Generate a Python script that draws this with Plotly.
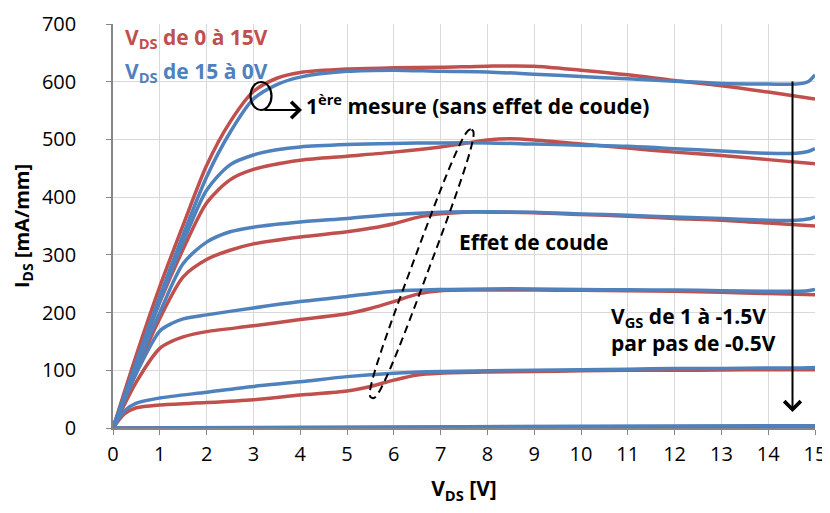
import numpy as np
import plotly.graph_objects as go

# ---------------- data ----------------
vgs_levels = ["1 V", "0.5 V", "0 V", "-0.5 V", "-1 V", "-1.5 V"]

# VDS swept 0 -> 15 V (red)
red_x = [
    [0, 0.5, 1, 1.5, 2, 2.5, 3, 3.5, 4, 5, 6, 7, 8, 9, 10, 11, 12, 13, 14, 15],
    [0, 0.5, 1, 1.5, 2, 2.5, 3, 4, 5, 6, 7, 7.5, 8, 8.5, 9, 10, 11, 12, 13, 14, 15],
    [0, 0.5, 1, 1.5, 2, 2.5, 3, 4, 5, 5.5, 6, 6.5, 7, 7.5, 8, 9, 10, 11, 12, 13, 14, 15],
    [0, 0.5, 1, 1.25, 1.5, 2, 3, 4, 5, 5.5, 6, 6.5, 7, 8, 9, 10, 11, 12, 13, 14, 15],
    [0, 0.25, 0.5, 1, 2, 3, 4, 5, 5.5, 6, 6.5, 7, 8, 9, 10, 11, 12, 13, 14, 15],
    [0, 5, 10, 15],
]
red_y = [
    [0, 127, 245, 352, 455, 530, 583, 606, 616, 622, 624, 625, 627, 627, 620, 612, 602, 593, 582, 570],
    [0, 112, 218, 310, 390, 430, 448, 464, 471, 478, 487, 493, 499, 501, 499, 492, 485, 478, 472, 465, 458],
    [0, 100, 190, 262, 292, 308, 319, 331, 340, 346, 354, 365, 371, 374, 374, 373, 370, 367, 363, 360, 355, 350],
    [0, 80, 138, 150, 158, 167, 177, 188, 198, 207, 219, 232, 238, 239, 239, 238.5, 238, 237, 235, 233, 231],
    [0, 25, 35, 40, 44, 49, 57, 64, 72, 83, 92, 95, 97, 98, 99, 100, 100, 100.5, 101, 101],
    [0, 1, 2, 3],
]

# VDS swept 15 -> 0 V (blue)
blue_x = [
    [0, 0.5, 1, 1.5, 2, 2.5, 3, 3.5, 4, 5, 6, 7, 8, 9, 10, 11, 12, 13, 14, 14.6, 14.85, 15],
    [0, 0.5, 1, 1.5, 2, 2.5, 3, 3.5, 4, 5, 6, 7, 8, 9, 10, 11, 12, 13, 14, 14.6, 14.85, 15],
    [0, 0.5, 1, 1.5, 2, 2.5, 3, 4, 5, 6, 7, 8, 9, 10, 11, 12, 13, 14, 14.6, 14.85, 15],
    [0, 0.5, 1, 1.25, 1.5, 2, 3, 4, 5, 6, 7, 8, 9, 10, 11, 12, 13, 14, 14.6, 14.85, 15],
    [0, 0.25, 0.5, 1, 2, 3, 4, 5, 6, 7, 8, 9, 10, 11, 12, 13, 14, 14.6, 14.85, 15],
    [0, 5, 10, 15],
]
blue_y = [
    [0, 115, 228, 335, 435, 512, 570, 595, 608, 618, 620, 618, 617, 613, 609, 605, 601, 597, 596, 596, 600, 612],
    [0, 112, 220, 322, 412, 456, 473, 482, 487, 491, 493, 494, 494, 492, 490, 488, 484, 480, 476, 476, 479, 484],
    [0, 105, 200, 285, 322, 340, 348, 357, 363, 370, 374, 374.5, 374, 371, 368.5, 365.5, 363, 360, 360, 362, 366],
    [0, 95, 168, 181, 189, 196, 208, 219, 228, 237, 240, 241, 241, 240, 239.5, 239, 238, 237, 237, 238, 240],
    [0, 30, 43, 52, 62, 72, 80, 89, 95, 98, 99, 100, 101, 102, 103, 103, 104, 104, 104.5, 105],
    [0, 1.5, 3, 4],
]

x_ticks = list(range(0, 16))
y_ticks = list(range(0, 701, 100))

RED = "#C0504D"
BLUE = "#4F81BD"
FONT = "Open Sans"

fig = go.Figure()
for xs, ys, name in zip(red_x, red_y, vgs_levels):
    fig.add_trace(go.Scatter(x=xs, y=ys, mode="lines", name="VDS 0→15 V, VGS=" + name,
                             line=dict(color=RED, width=3.5, shape="spline", smoothing=0.8),
                             showlegend=False))
for xs, ys, name in zip(blue_x, blue_y, vgs_levels):
    fig.add_trace(go.Scatter(x=xs, y=ys, mode="lines", name="VDS 15→0 V, VGS=" + name,
                             line=dict(color=BLUE, width=3.5, shape="spline", smoothing=0.8),
                             showlegend=False))

# --- geometry: page has an 8px body margin; plot area in page pixels ---
OFF = 8
PL, PT, PW, PH = 113, 24, 702, 404
W, H = 822, 505
L = PL - OFF
T = PT - OFF
R = W - (PL - OFF) - PW
B = H - (PT - OFF) - PH

def px2x(px):
    return (px - PL) / PW * 15
def py2y(py):
    return (PT + PH - py) / PH * 700

# dashed elongated loop around the "coude" region
cx, cy = 421.7, 263.8
dx, dy = 100.0, -269.0
ln = np.hypot(dx, dy)
ux, uy = dx / ln, dy / ln
vx, vy = -uy, ux
a, b, n = 143.0, 8.5, 3.0
t = np.linspace(0, 2 * np.pi, 121)
ct, st = np.cos(t), np.sin(t)
u = a * np.sign(ct) * np.abs(ct) ** (2 / n)
v = b * np.sign(st) * np.abs(st) ** (2 / n)
pxs = cx + u * ux + v * vx
pys = cy + u * uy + v * vy
path = "M " + " L ".join(f"{px2x(p):.4f},{py2y(q):.3f}" for p, q in zip(pxs, pys)) + " Z"
fig.add_shape(type="path", path=path, xref="x", yref="y",
              line=dict(color="black", width=2, dash="8px,5px"))

# small ellipse at first measurement
fig.add_shape(type="circle", xref="x", yref="y",
              x0=px2x(250.5), x1=px2x(271.5), y0=py2y(110), y1=py2y(82),
              line=dict(color="black", width=2.2))

# arrow from ellipse to text
fig.add_annotation(x=px2x(302), y=py2y(110), ax=px2x(263), ay=py2y(110),
                   xref="x", yref="y", axref="x", ayref="y", text="",
                   showarrow=True, arrowhead=4, arrowsize=1.6, arrowwidth=2, arrowcolor="black")
# vertical VGS arrow
fig.add_annotation(x=px2x(792.5), y=py2y(412), ax=px2x(792.5), ay=py2y(80),
                   xref="x", yref="y", axref="x", ayref="y", text="",
                   showarrow=True, arrowhead=4, arrowsize=1.6, arrowwidth=2, arrowcolor="black")

# texts
ANN = 21
fig.add_annotation(x=px2x(123), y=py2y(38), xref="x", yref="y", xanchor="left", yanchor="middle",
                   text="<b>V<sub>DS</sub> de 0 à 15V</b>", showarrow=False,
                   font=dict(family=FONT, size=ANN, color=RED))
fig.add_annotation(x=px2x(123), y=py2y(72), xref="x", yref="y", xanchor="left", yanchor="middle",
                   text="<b>V<sub>DS</sub> de 15 à 0V</b>", showarrow=False,
                   font=dict(family=FONT, size=ANN, color=BLUE))
fig.add_annotation(x=px2x(304), y=py2y(104), xref="x", yref="y", xanchor="left", yanchor="middle",
                   text="<b>1<sup>ère</sup> mesure (sans effet de coude)</b>", showarrow=False,
                   font=dict(family=FONT, size=ANN, color="black"))
fig.add_annotation(x=px2x(457), y=py2y(242), xref="x", yref="y", xanchor="left", yanchor="middle",
                   text="<b>Effet de coude</b>", showarrow=False,
                   font=dict(family=FONT, size=ANN, color="black"))
fig.add_annotation(x=px2x(609), y=py2y(329), xref="x", yref="y", xanchor="left", yanchor="middle",
                   text="<b>V<sub>GS</sub> de 1 à -1.5V<br>par pas de -0.5V</b>", showarrow=False,
                   align="left", font=dict(family=FONT, size=ANN, color="black"))

axis_common = dict(showgrid=True, gridcolor="#D9D9D9", gridwidth=1,
                   showline=True, linecolor="#868686", linewidth=1.5,
                   ticks="outside", ticklen=5, tickcolor="#868686",
                   tickfont=dict(family=FONT, size=20, color="black"),
                   zeroline=False, mirror=False)

fig.update_xaxes(range=[0, 15], tickvals=x_ticks, ticktext=[str(v) for v in x_ticks],
                 ticklabelstandoff=2,
                 title=dict(text="<b>V<sub>DS</sub> [V]</b>", font=dict(family=FONT, size=21, color="black"),
                            standoff=16),
                 **axis_common)
fig.update_yaxes(range=[0, 700], tickvals=y_ticks, ticktext=[str(v) for v in y_ticks],
                 ticklabelstandoff=26,
                 title=dict(text="<b>I<sub>DS</sub> [mA/mm]</b>", font=dict(family=FONT, size=20, color="black"),
                            standoff=8),
                 **axis_common)

fig.update_layout(width=W, height=H, margin=dict(l=L, r=R, t=T, b=B, autoexpand=False),
                  plot_bgcolor="white", paper_bgcolor="white", showlegend=False)

fig.write_html("out.html")
